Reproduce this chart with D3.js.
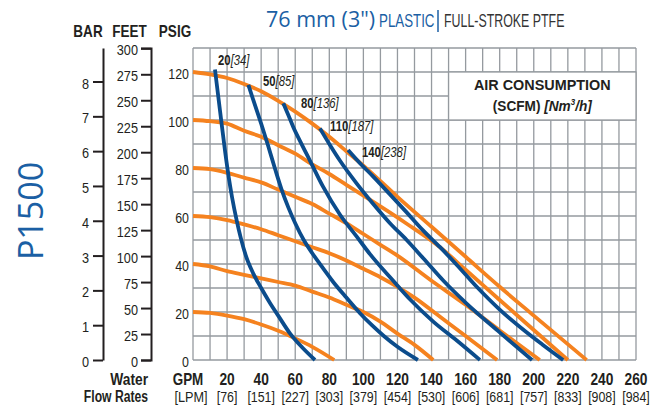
<!DOCTYPE html>
<html>
<head>
<meta charset="utf-8">
<script src="https://cdn.jsdelivr.net/npm/d3@7"></script>
<style>
  body { margin: 0; background: #fff; }
  svg { display: block; }
</style>
</head>
<body>
<div id="chart"></div>
<script>
// axis ticks
const gpmLabels = [20, 40, 60, 80, 100, 120, 140, 160, 180, 200, 220, 240, 260];
const lpmLabels = ["[76]", "[151]", "[227]", "[303]", "[379]", "[454]", "[530]", "[606]", "[681]", "[757]", "[833]", "[908]", "[984]"];
const psiTicks = [0, 20, 40, 60, 80, 100, 120];
const feetTicks = [0, 25, 50, 75, 100, 125, 150, 175, 200, 225, 250, 275, 300];
const barTicks = [0, 1, 2, 3, 4, 5, 6, 7, 8];

// head curves [GPM, PSIG] at each air inlet pressure
const head20 = [[0,20],[10,19.6],[20,18.5],[30,17],[40,14.8],[50,12.2],[60,9],[70,5.5],[82.9,0]];
const head40 = [[0,40],[10,39],[20,37],[30,35.5],[40,34],[50,32.5],[60,31],[70,28.5],[80,26],[90,23],[100,20],[110,16],[120,11],[130,6.3],[141,0]];
const head60 = [[0,60],[10,59.5],[20,58.3],[30,56.5],[40,54.5],[50,52],[60,49.5],[70,47],[80,44.5],[90,41.5],[100,38],[110,34.5],[120,30.5],[130,26],[145,18],[160,10],[178.5,0]];
const head80 = [[0,80],[10,79.5],[20,78],[30,76],[40,74],[50,71],[60,68],[70,65],[80,61],[90,57],[100,52.5],[110,48],[120,43.5],[140,33],[160,23],[180,12.3],[203.5,0]];
const head100 = [[0,100],[10,99.5],[20,98.5],[30,95.5],[40,93],[50,89.5],[60,86],[70,81.5],[80,77.5],[90,73],[100,68.5],[110,64],[125,57],[145,47],[160,37.6],[180,25],[200,12.5],[220,0]];
const head120 = [[0,120],[10,119],[20,117.5],[30,115],[40,112],[50,108],[60,103.5],[70,98.5],[80,93],[90,87],[100,81],[120,68],[140,55.5],[160,43],[180,30.5],[200,18.5],[231,0]];

// air consumption curves [GPM, PSIG]
const air20 = [[12.9,121],[16,103],[19,86],[21,76],[23,67.5],[25.6,58.3],[28,51],[31,43.5],[35.4,36],[40,30],[45,24],[50,18.5],[57,11],[64,5.3],[71.6,0]];
const air50 = [[32.5,114.6],[36,107],[40,98.5],[44,89.5],[48,80],[52,71],[56,63.5],[60,57],[65,50],[70,44.5],[75,39.5],[82.3,32.5],[90,26],[98,19.5],[105,14.5],[112,10],[120,5.5],[132,0]];
const air80 = [[53,107],[56,102],[58.9,97],[63,91],[68.7,83],[76.5,72],[86.3,60.5],[96,51.5],[104,44],[117.5,33],[127,25.5],[141,16],[155,8],[168.4,0]];
const air110 = [[74.5,96.5],[80,90],[86.3,83],[96,73.6],[105.8,65],[115.6,57],[125.4,50],[135,42.5],[147,33],[160.6,23.5],[180,11.5],[199,0]];
const air140 = [[91,87.5],[98,82],[105.8,76.4],[115.6,69],[125.4,61.5],[135,54],[145,47],[155,39.5],[166.5,30.5],[180,21],[195,12],[205,6.5],[217.3,0]];

const airScfm = ["20", "50", "80", "110", "140"];
const airNm3 = ["[34]", "[85]", "[136]", "[187]", "[238]"];
const airLabelGpm = [14.7, 41.1, 63.4, 80.4, 99.2];
const airLabelPsi = [122.9, 114.2, 105, 95.4, 84.6];

const headCurves = [head20, head40, head60, head80, head100, head120];
const airCurves = [air20, air50, air80, air110, air140];

const W = 668, H = 408;
const sans = "'Liberation Sans', Arial, sans-serif";
const ink = "#231f20";
const orange = "#f5821f";
const blue = "#0b4c8c";
const titleBlue = "#1b5fa4";
const gridColor = "#959a9f";

// fake a condensed face by squeezing the text horizontally
function squeeze(sel, s) {
    sel.each(function() {
        const t = d3.select(this);
        const tx = +t.attr("x") || 0, ty = +t.attr("y") || 0;
        t.attr("transform", "translate(" + tx + "," + ty + ") scale(" + s + ",1)")
            .attr("x", 0).attr("y", 0);
    });
    return sel;
}

const svg = d3.select("#chart").append("svg")
    .attr("width", W)
    .attr("height", H)
    .style("font-family", sans);

const x = d3.scaleLinear().domain([0, 260]).range([193, 636]);
const y = d3.scaleLinear().domain([0, 130]).range([360, 48]);
const feet = d3.scaleLinear().domain([0, 130 * 2.31]).range([360, 48]);
const bar = d3.scaleLinear().domain([0, 130 / 14.5038]).range([360, 48]);

// grid
const grid = svg.append("g");
grid.selectAll(".vline")
    .data(d3.range(0, 261, 10))
    .enter().append("line")
    .attr("x1", d => x(d)).attr("x2", d => x(d))
    .attr("y1", y(0)).attr("y2", y(130))
    .attr("stroke", gridColor).attr("stroke-width", 1.3);
grid.selectAll(".hline")
    .data(d3.range(0, 131, 10))
    .enter().append("line")
    .attr("x1", x(0)).attr("x2", x(260))
    .attr("y1", d => y(d)).attr("y2", d => y(d))
    .attr("stroke", gridColor).attr("stroke-width", 1.3);

// legend box covers the grid in the upper right
svg.append("rect")
    .attr("x", x(150)).attr("y", y(120))
    .attr("width", x(260) - x(150)).attr("height", y(100) - y(120))
    .attr("fill", "#fff").attr("stroke", gridColor).attr("stroke-width", 1.3);

const legX = (x(150) + x(260)) / 2;
squeeze(svg.append("text")
    .attr("x", legX).attr("y", 90)
    .attr("text-anchor", "middle")
    .style("font-size", "15.5px").style("font-weight", "bold").style("fill", ink)
    .text("AIR CONSUMPTION"), 0.93);
const leg2 = svg.append("text")
    .attr("x", legX).attr("y", 111)
    .attr("text-anchor", "middle")
    .style("font-size", "15.5px").style("font-weight", "bold").style("fill", ink);
leg2.append("tspan").text("(SCFM) ");
leg2.append("tspan").style("font-style", "italic").text("[Nm");
leg2.append("tspan").style("font-style", "italic").style("font-size", "9px").attr("dy", -6).text("3");
leg2.append("tspan").style("font-style", "italic").attr("dy", 6).text("/h]");
squeeze(leg2, 0.88);

// curves
const line = d3.line()
    .x(d => x(d[0]))
    .y(d => y(d[1]))
    .curve(d3.curveMonotoneX);

svg.append("g").selectAll("path")
    .data(headCurves)
    .enter().append("path")
    .attr("d", line)
    .attr("fill", "none")
    .attr("stroke", orange)
    .attr("stroke-width", 3.8);

svg.append("g").selectAll("path")
    .data(airCurves)
    .enter().append("path")
    .attr("d", line)
    .attr("fill", "none")
    .attr("stroke", blue)
    .attr("stroke-width", 3.8);

// curve labels
const airLab = svg.append("g").selectAll("text")
    .data(airScfm)
    .enter().append("text")
    .attr("x", (d, i) => x(airLabelGpm[i]))
    .attr("y", (d, i) => y(airLabelPsi[i]))
    .style("font-size", "14.5px").style("fill", ink);
airLab.append("tspan").style("font-weight", "bold").text(d => d);
airLab.append("tspan").style("font-style", "italic").text((d, i) => airNm3[i]);
squeeze(airLab, 0.78);

// PSIG labels
const psiAxis = svg.append("g")
    .attr("transform", "translate(" + x(0) + ",0)")
    .call(d3.axisLeft(y).tickValues(psiTicks).tickSize(0).tickPadding(4));
psiAxis.select(".domain").remove();
squeeze(psiAxis.selectAll("text")
    .attr("dy", "0.45em")
    .style("font-size", "15.5px").style("fill", ink).style("font-family", sans), 0.8);

// FEET axis
const feetAxis = svg.append("g")
    .attr("transform", "translate(151,0)")
    .call(d3.axisLeft(feet).tickValues(feetTicks).tickSize(10).tickPadding(3));
squeeze(feetAxis.selectAll("text")
    .attr("dy", "0.42em")
    .style("font-size", "15.5px").style("fill", ink).style("font-family", sans), 0.82);
feetAxis.selectAll("line, path").attr("stroke", ink).attr("stroke-width", 2);

// BAR axis
const barAxis = svg.append("g")
    .attr("transform", "translate(103,0)")
    .call(d3.axisLeft(bar).tickValues(barTicks).tickSize(10).tickSizeOuter(0).tickPadding(4));
squeeze(barAxis.selectAll("text")
    .attr("dy", "0.42em")
    .style("font-size", "15.5px").style("fill", ink).style("font-family", sans), 0.82);
barAxis.selectAll("line, path").attr("stroke", ink).attr("stroke-width", 2);

// unit headers
const headers = [["BAR", 88], ["FEET", 129.5], ["PSIG", 175]];
squeeze(svg.selectAll(".hdr")
    .data(headers)
    .enter().append("text")
    .attr("x", d => d[1]).attr("y", 37)
    .attr("text-anchor", "middle")
    .style("font-size", "16.5px").style("font-weight", "bold").style("fill", ink)
    .text(d => d[0]), 0.82);

// bottom axis labels
squeeze(svg.append("g").selectAll("text")
    .data(gpmLabels)
    .enter().append("text")
    .attr("x", d => x(d)).attr("y", 385)
    .attr("text-anchor", "middle")
    .style("font-size", "16px").style("font-weight", "bold").style("fill", ink)
    .text(d => d), 0.86);
squeeze(svg.append("g").selectAll("text")
    .data(lpmLabels)
    .enter().append("text")
    .attr("x", (d, i) => x(gpmLabels[i])).attr("y", 402)
    .attr("text-anchor", "middle")
    .style("font-size", "15.5px").style("fill", ink)
    .text(d => d), 0.8);

squeeze(svg.append("text").attr("x", 188).attr("y", 385).attr("text-anchor", "middle")
    .style("font-size", "16px").style("font-weight", "bold").style("fill", ink).text("GPM"), 0.84);
squeeze(svg.append("text").attr("x", 191).attr("y", 402).attr("text-anchor", "middle")
    .style("font-size", "15.5px").style("fill", ink).text("[LPM]"), 0.82);
squeeze(svg.append("text").attr("x", 148).attr("y", 385).attr("text-anchor", "end")
    .style("font-size", "16px").style("font-weight", "bold").style("fill", ink).text("Water"), 0.86);
squeeze(svg.append("text").attr("x", 148).attr("y", 402).attr("text-anchor", "end")
    .style("font-size", "16px").style("font-weight", "bold").style("fill", ink).text("Flow Rates"), 0.76);

// title
svg.append("text")
    .attr("x", 266).attr("y", 27)
    .style("font-family", "'Open Sans', 'Noto Sans', sans-serif")
    .style("font-size", "21.5px")
    .style("fill", titleBlue)
    .text("76 mm (3\")");
squeeze(svg.append("text")
    .attr("x", 379).attr("y", 27)
    .style("font-size", "18.5px")
    .style("fill", titleBlue)
    .text("PLASTIC"), 0.72);
svg.append("line")
    .attr("x1", 438).attr("x2", 438).attr("y1", 10).attr("y2", 32)
    .attr("stroke", titleBlue).attr("stroke-width", 1.5);
squeeze(svg.append("text")
    .attr("x", 444).attr("y", 27)
    .style("font-size", "18.5px").style("fill", "#333")
    .text("FULL-STROKE PTFE"), 0.67);

// model name
svg.append("text")
    .attr("transform", "translate(43,211) rotate(-90)")
    .attr("text-anchor", "middle")
    .style("font-family", "'Open Sans', 'Noto Sans', sans-serif")
    .style("font-size", "34px")
    .style("fill", titleBlue)
    .text("P1500");
</script>
</body>
</html>
